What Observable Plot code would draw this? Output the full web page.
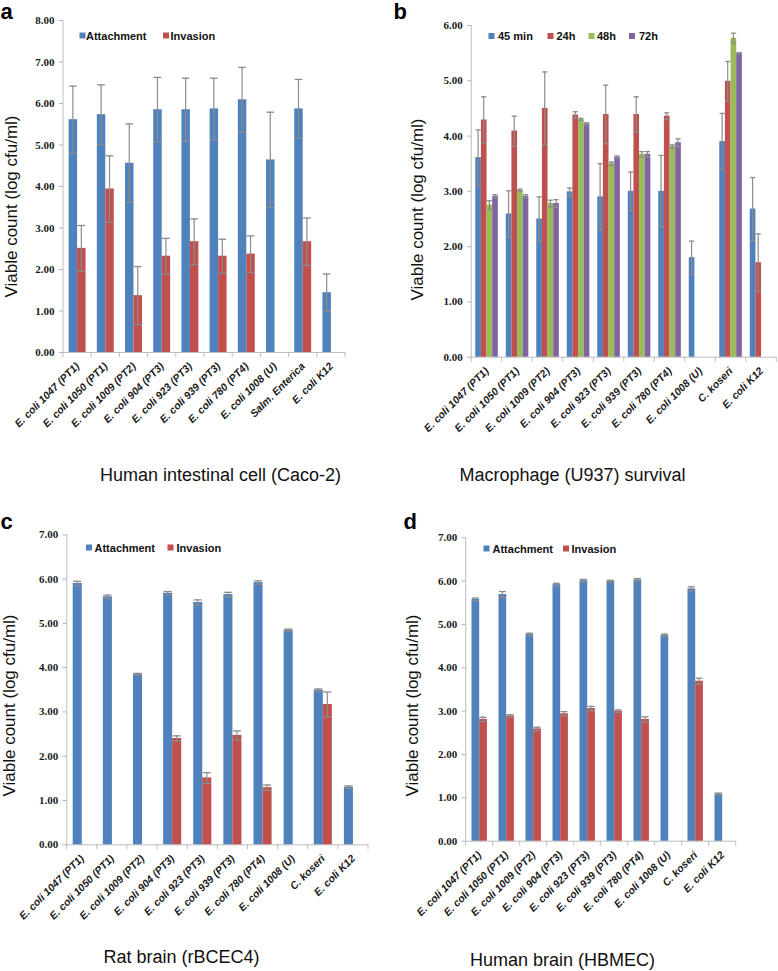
<!DOCTYPE html>
<html><head><meta charset="utf-8">
<script src="https://cdn.jsdelivr.net/npm/d3@7"></script>
<script src="https://cdn.jsdelivr.net/npm/@observablehq/plot@0.6"></script>
<style>
body{margin:0;background:#fff;}
#wrap{position:relative;width:778px;height:971px;overflow:hidden;background:#fff;}
.panel{position:absolute;}
.panel svg{overflow:visible;background:transparent;}
[aria-label^="y-axis"] text{font-family:"Liberation Serif",serif;font-weight:bold;font-size:11px;fill:#1a1a1a;}
[aria-label^="x-axis"] text{font-family:"Liberation Sans",sans-serif;font-weight:bold;font-style:italic;font-size:10.5px;fill:#1a1a1a;}
</style></head><body><div id="wrap"></div>
<script>
// ---------- data ----------
const catsA = ["E. coli 1047 (PT1)","E. coli 1050 (PT1)","E. coli 1009 (PT2)","E. coli 904 (PT3)","E. coli 923 (PT3)","E. coli 939 (PT3)","E. coli 780 (PT4)","E. coli 1008 (U)","Salm. Enterica","E. coli K12"];
const catsBCD = ["E. coli 1047 (PT1)","E. coli 1050 (PT1)","E. coli 1009 (PT2)","E. coli 904 (PT3)","E. coli 923 (PT3)","E. coli 939 (PT3)","E. coli 780 (PT4)","E. coli 1008 (U)","C. koseri","E. coli K12"];

// panel a: Human intestinal cell (Caco-2)
const attachA    = [5.61,5.73,4.56,5.85,5.85,5.87,6.09,4.64,5.87,1.44];
const attachErrA = [0.81,0.72,0.95,0.78,0.76,0.74,0.78,1.15,0.71,0.45];
const invasA     = [2.51,3.94,1.37,2.32,2.67,2.32,2.37,null,2.67,null];
const invasErrA  = [0.55,0.80,0.70,0.43,0.55,0.41,0.44,null,0.57,null];

// panel b: Macrophage (U937) survival
const min45B    = [3.61,2.59,2.50,2.99,2.90,3.00,3.00,1.80,3.90,2.68];
const min45ErrB = [0.50,0.42,0.40,0.07,0.60,0.35,0.65,0.30,0.51,0.57];
const h24B      = [4.29,4.09,4.50,4.38,4.39,4.39,4.36,null,4.99,1.71];
const h24ErrB   = [0.42,0.27,0.66,0.06,0.53,0.32,0.06,null,0.36,0.52];
const h48B      = [2.75,3.02,2.78,4.30,3.50,3.67,3.81,null,5.77,null];
const h48ErrB   = [0.08,0.02,0.06,0.02,0.03,0.05,0.03,null,0.09,null];
const h72B      = [2.91,2.91,2.78,4.22,3.62,3.67,3.88,null,5.50,null];
const h72ErrB   = [0.03,0.03,0.07,0.02,0.02,0.05,0.07,null,0.01,null];

// panel c: Rat brain (rBCEC4)
const attachC    = [5.90,5.60,3.85,5.68,5.47,5.65,5.92,4.85,3.49,1.30];
const attachErrC = [0.05,0.04,0.02,0.04,0.06,0.05,0.04,0.02,0.03,0.03];
const invasC     = [null,null,null,2.40,1.51,2.47,1.29,null,3.17,null];
const invasErrC  = [null,null,null,0.06,0.12,0.10,0.06,null,0.28,null];

// panel d: Human brain (HBMEC)
const attachD    = [5.58,5.69,4.77,5.92,6.01,6.00,6.03,4.75,5.82,1.09];
const attachErrD = [0.03,0.07,0.03,0.03,0.03,0.02,0.03,0.03,0.05,0.02];
const invasD     = [2.81,2.89,2.59,2.94,3.06,3.00,2.81,null,3.69,null];
const invasErrD  = [0.05,0.03,0.04,0.05,0.05,0.03,0.06,null,0.07,null];

const yLabel = "Viable count (log cfu/ml)";
const BLUE = "#4F81BD", RED = "#C0504D", GREEN = "#9BBB59", PURPLE = "#8064A2";

// ---------- panel builder ----------
function panel(cfg) {
  const {cats, series, yMax, W, H, mL, mR, mT, mB, barFrac, left, top} = cfg;
  const bw = (W - mL - mR) / cats.length;
  const n = series.length;
  const w = barFrac * bw;
  const g0 = bw / 2 - n * w / 2;
  const ppu = (H - mT - mB) / yMax;
  const axisGrey = "#bdbdbd", errGrey = "#8c8c8c";
  const T = (str, x, y, o = {}) => Plot.text([str], {text: d => d, frameAnchor: "top-left", dx: x - mL, dy: y - mT, fill: "#111", ...o});
  const marks = [];
  // axis lines & category boundary ticks
  marks.push(Plot.barY([cats[0]], {x: d => d, y1: 0, y2: yMax, insetLeft: -0.5, insetRight: bw - 0.5, fill: axisGrey}));
  marks.push(Plot.ruleY([0], {stroke: axisGrey}));
  marks.push(Plot.barY(cats, {x: d => d, y1: 0, y2: -5 / ppu, insetLeft: -0.5, insetRight: bw - 0.5, fill: axisGrey}));
  marks.push(Plot.barY([cats[cats.length - 1]], {x: d => d, y1: 0, y2: -5 / ppu, insetLeft: bw - 0.5, insetRight: -0.5, fill: axisGrey}));
  const rowsOf = s => cats.map((c, i) => ({cat: c, v: s.values[i], e: s.errs[i]})).filter(d => d.v != null);
  series.forEach((s, j) => {
    const l = g0 + j * w;
    marks.push(Plot.barY(rowsOf(s), {x: "cat", y1: 0, y2: "v", fill: s.color, insetLeft: l, insetRight: bw - l - w}));
  });
  series.forEach((s, j) => {
    const c = g0 + j * w + w / 2;
    const cw = Math.min(w * 0.9, 8);
    const rows = rowsOf(s);
    marks.push(Plot.barY(rows, {x: "cat", y1: d => d.v - d.e, y2: d => d.v + d.e, fill: errGrey, insetLeft: c - 0.6, insetRight: bw - c - 0.6}));
    marks.push(Plot.tickY(rows, {x: "cat", y: d => d.v + d.e, stroke: errGrey, strokeWidth: 1.3, insetLeft: c - cw / 2, insetRight: bw - c - cw / 2}));
    marks.push(Plot.tickY(rows, {x: "cat", y: d => d.v - d.e, stroke: errGrey, strokeWidth: 1.3, insetLeft: c - cw / 2, insetRight: bw - c - cw / 2}));
  });
  // legend
  cfg.legend.forEach(it => {
    marks.push(Plot.dot([0], {frameAnchor: "top-left", dx: it.sx - mL, dy: it.y - mT, symbol: "square", r: 3.4, fill: it.color, stroke: null}));
    marks.push(T(it.label, it.tx, it.y + 4, {textAnchor: "start", lineAnchor: "bottom", fontSize: 11, fontWeight: "bold", fontFamily: "Liberation Sans, sans-serif"}));
  });
  // panel letter, y label, caption
  marks.push(T(cfg.letter, cfg.letterX, cfg.letterY, {textAnchor: "start", lineAnchor: "bottom", fontSize: 22, fontWeight: "bold", fontFamily: "Liberation Sans, sans-serif", fill: "#000"}));
  marks.push(T(yLabel, cfg.ylX, cfg.ylY, {rotate: -90, textAnchor: "middle", lineAnchor: "middle", fontSize: 17, fontFamily: "Liberation Sans, sans-serif"}));
  marks.push(T(cfg.caption, cfg.capX, cfg.capY, {textAnchor: "middle", lineAnchor: "bottom", fontSize: 18, fontFamily: "Liberation Sans, sans-serif"}));

  const p = Plot.plot({
    width: W, height: H, marginLeft: mL, marginRight: mR, marginTop: mT, marginBottom: mB,
    style: {color: "#b3b3b3", background: "transparent", overflow: "visible"},
    x: {domain: cats, padding: 0, round: false, tickSize: 0, tickPadding: 12, tickRotate: -45, label: null},
    y: {domain: [0, yMax], ticks: d3.range(0, yMax + 1), tickFormat: d => d.toFixed(2), tickSize: 4, tickPadding: 5, label: null},
    marks
  });
  const div = document.createElement("div");
  div.className = "panel";
  div.style.left = left + "px";
  div.style.top = top + "px";
  div.appendChild(p);
  document.getElementById("wrap").appendChild(div);
}

panel({
  cats: catsA, yMax: 8, W: 389, H: 480, mL: 63, mR: 44, mT: 20, mB: 128, barFrac: 0.3, left: 0, top: 0,
  series: [{color: BLUE, values: attachA, errs: attachErrA}, {color: RED, values: invasA, errs: invasErrA}],
  legend: [{label: "Attachment", color: BLUE, sx: 82, tx: 85.5, y: 35}, {label: "Invasion", color: RED, sx: 165.5, tx: 170, y: 35}],
  letter: "a", letterX: 0, letterY: 18, ylX: 11, ylY: 206, caption: "Human intestinal cell (Caco-2)", capX: 220, capY: 480
});
panel({
  cats: catsBCD, yMax: 6, W: 389, H: 480, mL: 82.3, mR: 1.7, mT: 25, mB: 123.3, barFrac: 0.185, left: 389, top: 0,
  series: [{color: BLUE, values: min45B, errs: min45ErrB}, {color: RED, values: h24B, errs: h24ErrB}, {color: GREEN, values: h48B, errs: h48ErrB}, {color: PURPLE, values: h72B, errs: h72ErrB}],
  legend: [{label: "45 min", color: BLUE, sx: 102, tx: 108.5, y: 35.5}, {label: "24h", color: RED, sx: 161, tx: 167, y: 35.5}, {label: "48h", color: GREEN, sx: 202, tx: 207.5, y: 35.5}, {label: "72h", color: PURPLE, sx: 242.5, tx: 249.5, y: 35.5}],
  letter: "b", letterX: 4, letterY: 18.5, ylX: 28, ylY: 209, caption: "Macrophage (U937) survival", capX: 183, capY: 480
});
panel({
  cats: catsBCD, yMax: 7, W: 389, H: 491, mL: 66.7, mR: 21, mT: 54.3, mB: 126.7, barFrac: 0.3, left: 0, top: 480,
  series: [{color: BLUE, values: attachC, errs: attachErrC}, {color: RED, values: invasC, errs: invasErrC}],
  legend: [{label: "Attachment", color: BLUE, sx: 88.5, tx: 94, y: 67}, {label: "Invasion", color: RED, sx: 170, tx: 176, y: 67}],
  letter: "c", letterX: 0, letterY: 48, ylX: 9, ylY: 225, caption: "Rat brain (rBCEC4)", capX: 181, capY: 482
});
panel({
  cats: catsBCD, yMax: 7, W: 389, H: 491, mL: 76.7, mR: 42.3, mT: 57.3, mB: 130.3, barFrac: 0.285, left: 389, top: 480,
  series: [{color: BLUE, values: attachD, errs: attachErrD}, {color: RED, values: invasD, errs: invasErrD}],
  legend: [{label: "Attachment", color: BLUE, sx: 97, tx: 103, y: 68}, {label: "Invasion", color: RED, sx: 176.5, tx: 182, y: 68}],
  letter: "d", letterX: 14, letterY: 48, ylX: 23, ylY: 225, caption: "Human brain (HBMEC)", capX: 173, capY: 485
});
</script></body></html>
